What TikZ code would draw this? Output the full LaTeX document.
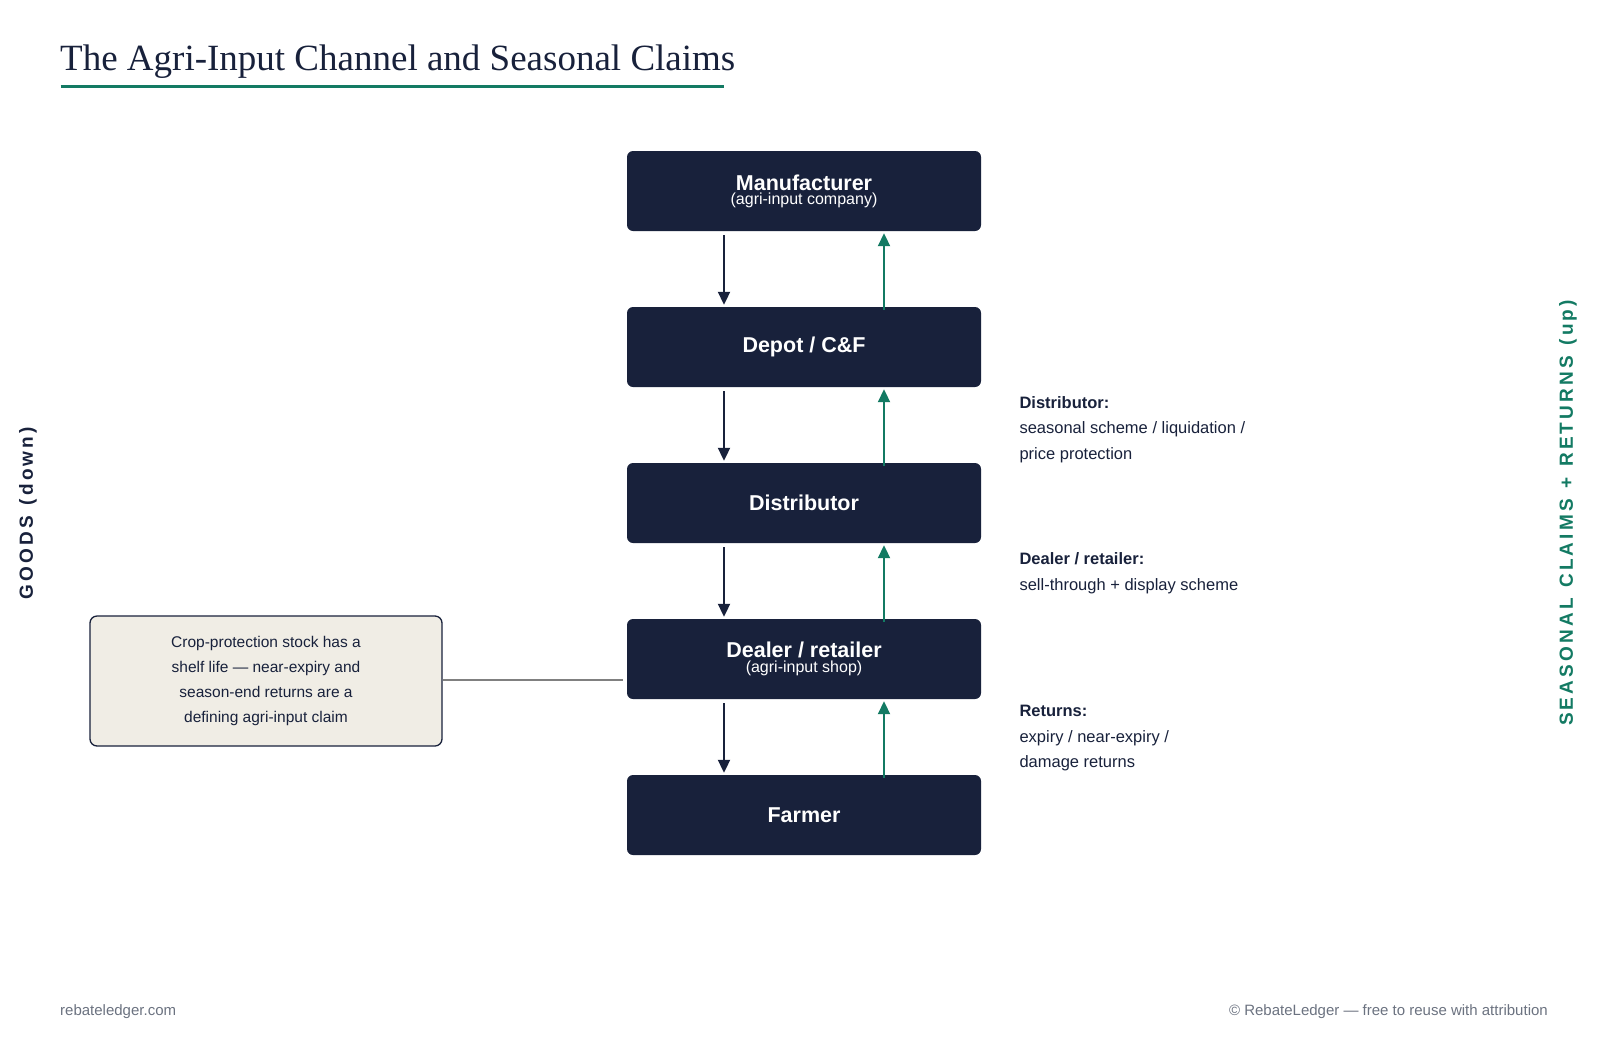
\documentclass[tikz,border=0pt]{standalone}
\usepackage{fontspec}
\setmainfont{Liberation Sans}
\newfontfamily\titlefont{Liberation Serif}
\usetikzlibrary{positioning,arrows.meta}
\definecolor{navy}{HTML}{18213B}
\definecolor{teal}{HTML}{137A63}
\definecolor{paper}{HTML}{F0EDE5}
\definecolor{greytxt}{HTML}{6B7280}
\tikzset{
  stage/.style={fill=navy,rounded corners=6pt,minimum width=354pt,minimum height=80pt,
    text=white,align=center,inner sep=0pt},
  goods/.style={draw=navy,line width=2pt,-{Triangle[length=13pt,width=12pt]}},
  claims/.style={draw=teal,line width=2pt,-{Triangle[length=13pt,width=12pt]}},
  remark/.style={anchor=north west,align=left,text=navy,font=\fontsize{16.5}{25.5}\selectfont}
}
\begin{document}
\begin{tikzpicture}[x=1pt,y=-1pt]
\useasboundingbox (0,0) rectangle (1600,1050);
% title
\node[anchor=base west,inner sep=0pt,text=navy,font=\titlefont\fontsize{37}{40}\selectfont] (title) at (60,70) {The Agri-Input Channel and Seasonal Claims};
\draw[teal,line width=3pt] (60.5,86) -- (724,86);
% stages
\node[stage] (mfr) at (804,191) {{\bfseries\fontsize{21.5}{26}\selectfont Manufacturer}\\[2pt]{\fontsize{16}{20}\selectfont (agri-input company)}};
\node[stage] (depot) at (804,347) {\bfseries\fontsize{21.5}{26}\selectfont Depot / C\&F};
\node[stage] (dist) at (804,503) {\bfseries\fontsize{21.5}{26}\selectfont Distributor};
\node[stage] (dealer) at (804,659) {{\bfseries\fontsize{21.5}{26}\selectfont Dealer / retailer}\\[2pt]{\fontsize{16}{20}\selectfont (agri-input shop)}};
\node[stage] (farmer) at (804,815) {\bfseries\fontsize{21.5}{26}\selectfont Farmer};
% flows
\foreach \a/\b in {mfr/depot,depot/dist,dist/dealer,dealer/farmer}{
  \draw[goods] ([xshift=-80pt,yshift=-4pt]\a.south) -- ([xshift=-80pt,yshift=2pt]\b.north);
  \draw[claims] ([xshift=80pt,yshift=-3pt]\b.north) -- ([xshift=80pt,yshift=-2pt]\a.south);
}
% remarks
\node[remark] (r1) at (1016,393) {\textbf{Distributor:}\\seasonal scheme / liquidation /\\price protection};
\node[remark] (r2) at (1016,549) {\textbf{Dealer / retailer:}\\sell-through + display scheme};
\node[remark] (r3) at (1016,702) {\textbf{Returns:}\\expiry / near-expiry /\\damage returns};
% note
\node[draw=navy,line width=1.3pt,fill=paper,rounded corners=7pt,minimum width=352pt,minimum height=130pt,
  align=center,text=navy,font=\fontsize{15.5}{25}\selectfont] (note) at (266,681)
  {Crop-protection stock has a\\shelf life — near-expiry and\\season-end returns are a\\defining agri-input claim};
\draw[gray,line width=1.2pt] (note.east |- 0,680) -- ([xshift=-4pt]dealer.west |- 0,680);
% side labels
\node[rotate=90,text=navy,font=\bfseries\fontsize{19}{22}\selectfont] (down) at (28,513) {G\,O\,O\,D\,S\ \ (\,d\,o\,w\,n\,)};
\node[rotate=90,text=teal,font=\bfseries\fontsize{19}{22}\selectfont] (up) at (1568,513) {S\,E\,A\,S\,O\,N\,A\,L\ \ C\,L\,A\,I\,M\,S\ \ +\ \ R\,E\,T\,U\,R\,N\,S\ \ (\,u\,p\,)};
% footer
\node[anchor=base west,inner sep=0pt,text=greytxt,font=\fontsize{15}{18}\selectfont] (site) at (60,1015) {rebateledger.com};
\node[anchor=base east,inner sep=0pt,text=greytxt,font=\fontsize{15}{18}\selectfont] (copy) at (1548,1015) {© RebateLedger — free to reuse with attribution};
\end{tikzpicture}
\end{document}
